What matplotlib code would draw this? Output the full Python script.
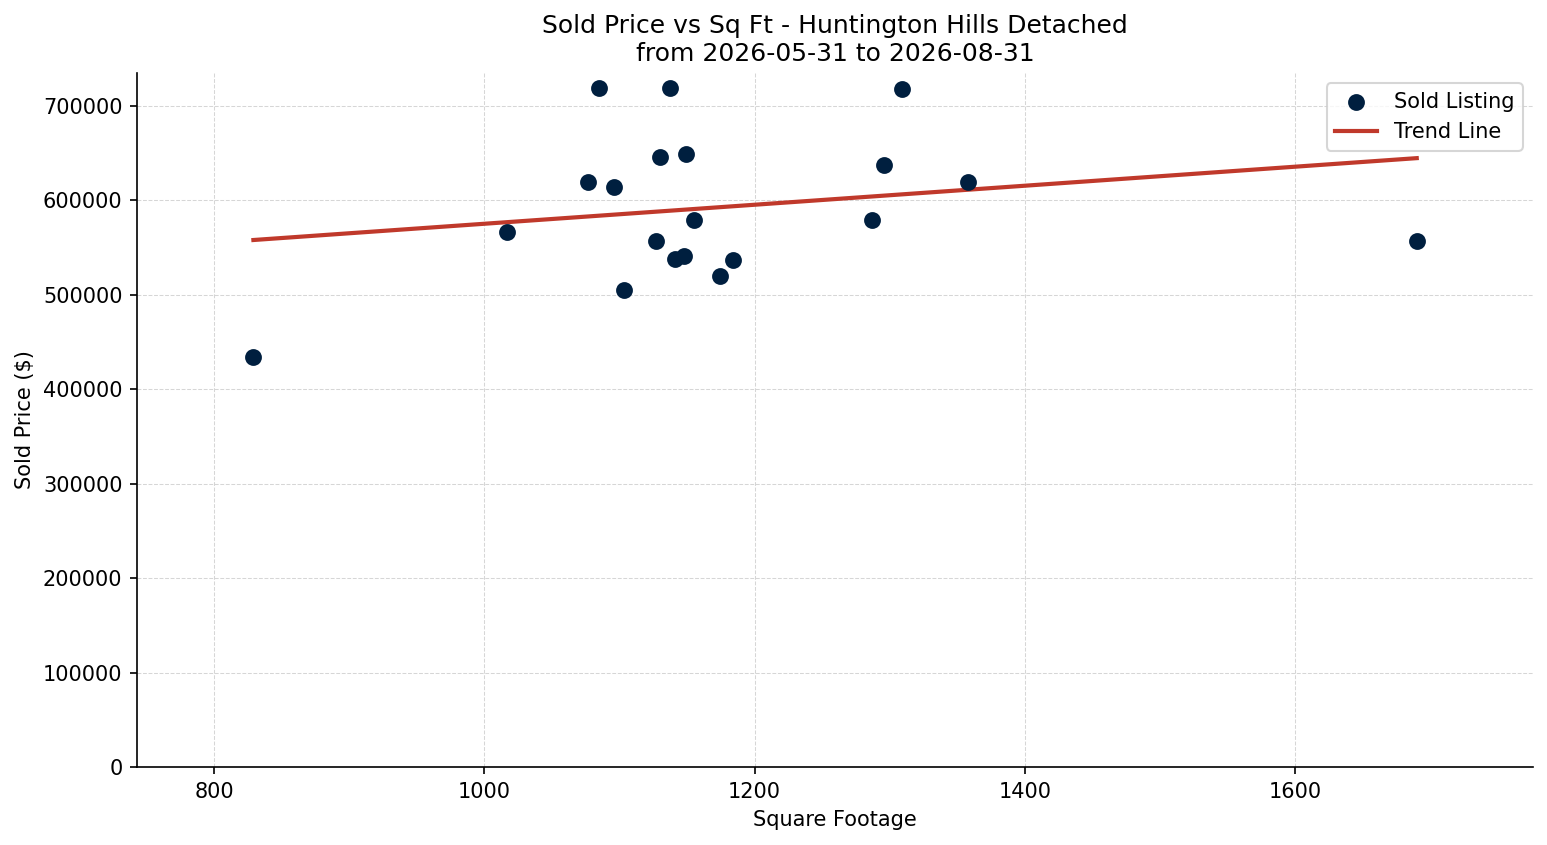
import numpy as np
import matplotlib
matplotlib.use("Agg")
import matplotlib.pyplot as plt

# sold listings (sq ft, sold price)
sqft = [829, 1017, 1077, 1085, 1096, 1103, 1127, 1130, 1137, 1141,
        1148, 1149, 1155, 1174, 1184, 1287, 1296, 1309, 1358, 1690]
price = [434000, 566500, 619500, 719000, 614200, 505000, 557000, 646000, 719000, 538000,
         541500, 649000, 579000, 520000, 537000, 579000, 637500, 718000, 619500, 557000]

title = "Sold Price vs Sq Ft - Huntington Hills Detached\nfrom 2026-05-31 to 2026-08-31"

x = np.array(sqft)
y = np.array(price)
m, b = np.polyfit(x, y, 1)
xs = np.array([x.min(), x.max()])

fig, ax = plt.subplots(figsize=(1547/150, 845/150), dpi=150)
fig.subplots_adjust(left=0.0886, right=0.991, bottom=0.0923, top=0.9136)

ax.scatter(x, y, s=50, color="#001f3f", label="Sold Listing", zorder=3)
ax.plot(xs, m*xs + b, color="#c0392b", linewidth=2, label="Trend Line", zorder=2)

pad = (x.max() - x.min())*0.1
ax.set_xlim(x.min() - pad, x.max() + pad)
ax.set_ylim(0, y.max()*1.022)
ax.set_title(title, fontsize=12)
ax.set_xlabel("Square Footage")
ax.set_ylabel("Sold Price ($)")
ax.grid(True, linestyle="--", linewidth=0.5, color="#cccccc", alpha=0.8)
ax.spines["top"].set_visible(False)
ax.spines["right"].set_visible(False)
ax.legend(loc="upper right")

fig.savefig("out.png", dpi=150)
